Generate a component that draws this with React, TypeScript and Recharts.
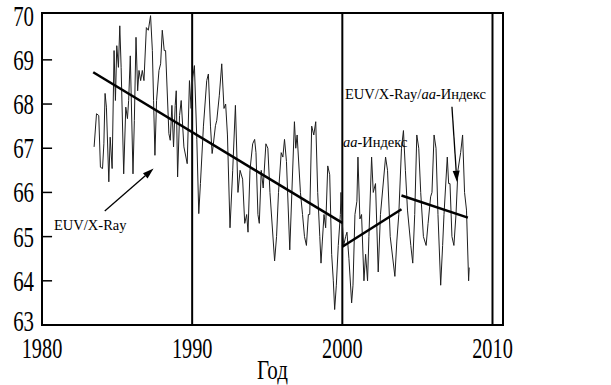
import { ComposedChart, Label, Line, ReferenceArea, ReferenceDot, ReferenceLine, XAxis, YAxis } from 'recharts';

const X_MIN = 1980;
const X_MAX = 2010.7;
const Y_MIN = 63;
const Y_MAX = 70.06;

const xTicks = [1980, 1990, 2000, 2010];
const yTicks = [63, 64, 65, 66, 67, 68, 69, 70];
const dividerYears = [1990, 2000, 2010];

// one row per calendar year, same layout in both arrays
const years = [
  1983.47, 1983.63, 1983.78, 1983.89,
  1984.03, 1984.12, 1984.2, 1984.29, 1984.45, 1984.54, 1984.67, 1984.8, 1984.89, 1984.98,
  1985.09, 1985.18, 1985.27, 1985.44, 1985.58, 1985.69, 1985.77, 1985.88,
  1986.06, 1986.15, 1986.26, 1986.37, 1986.46, 1986.57, 1986.68, 1986.79, 1986.95,
  1987.08, 1987.23, 1987.35, 1987.43, 1987.52, 1987.63, 1987.79, 1987.9,
  1988.01, 1988.14, 1988.23, 1988.45, 1988.54, 1988.65, 1988.76, 1988.87, 1988.94,
  1989.03, 1989.16, 1989.27, 1989.45, 1989.67, 1989.82, 1989.93,
  1990.04, 1990.15, 1990.31, 1990.44, 1990.55, 1990.75, 1990.97,
  1991.08, 1991.22, 1991.33, 1991.39, 1991.55, 1991.64, 1991.81, 1991.97,
  1992.12, 1992.23, 1992.35, 1992.52, 1992.7, 1992.88,
  1993.05, 1993.19, 1993.36, 1993.5, 1993.63, 1993.72, 1993.85,
  1994.03, 1994.16, 1994.25, 1994.38, 1994.47, 1994.6, 1994.73, 1994.91,
  1995.04, 1995.18, 1995.49, 1995.62, 1995.75, 1995.93,
  1996.04, 1996.15, 1996.28, 1996.5, 1996.64, 1996.81, 1996.9, 1996.99,
  1997.21, 1997.35, 1997.48, 1997.61, 1997.74, 1997.83, 1997.96,
  1998.1, 1998.23, 1998.36, 1998.5, 1998.58, 1998.67, 1998.78, 1998.89,
  1999.03, 1999.16, 1999.29, 1999.4, 1999.49, 1999.6, 1999.73, 1999.87, 1999.91,
  2000.0, 2000.09, 2000.22, 2000.31, 2000.44, 2000.62, 2000.71, 2000.84, 2000.97,
  2001.04, 2001.17, 2001.28, 2001.44, 2001.55, 2001.68, 2001.77, 2001.95,
  2002.06, 2002.21, 2002.39, 2002.54, 2002.88,
  2003.01, 2003.19, 2003.5, 2003.63, 2003.76, 2003.94,
  2004.07, 2004.2, 2004.34, 2004.56, 2004.69, 2004.82, 2004.96,
  2005.09, 2005.22, 2005.4, 2005.58, 2005.71, 2005.88, 2005.97,
  2006.11, 2006.24, 2006.37, 2006.55, 2006.68, 2006.77, 2006.99,
  2007.08, 2007.17, 2007.3, 2007.43, 2007.57, 2007.7, 2007.88,
  2008.01, 2008.14, 2008.27, 2008.41, 2008.45,
];

const values = [
  67.03, 67.78, 67.74, 66.57,
  66.54, 67.1, 68.24, 67.93, 66.24, 67.25, 66.54, 69.21, 68.08, 69.32,
  68.83, 69.77, 68.83, 66.42, 67.93, 67.67, 68.08, 69.09,
  66.42, 67.63, 69.51, 68.3, 68.76, 68.53, 68.76, 68.53, 69.73,
  69.67, 70.0, 69.21, 68.08, 66.84, 68.08, 68.76, 68.91,
  69.67, 69.21, 69.21, 67.33, 67.18, 67.97, 67.03, 67.97, 68.3,
  66.35, 67.74, 68.08, 67.03, 66.65, 68.53, 67.9,
  68.6, 68.87, 67.2, 65.52, 66.2, 67.5, 68.53,
  68.68, 67.5, 66.88, 67.03, 67.51, 67.63, 68.2, 68.91,
  67.9, 68.0, 67.3, 65.2, 66.5, 67.97,
  66.0, 66.5, 66.3, 65.3, 65.5, 65.1, 66.5,
  67.1, 67.2, 66.9, 65.5, 65.3, 66.5, 66.1, 67.1,
  67.0, 66.0, 64.45, 65.0, 66.0, 66.9,
  66.8, 67.2, 66.7, 64.7, 66.0, 67.6, 67.0, 67.3,
  66.0, 65.5, 65.0, 64.8, 65.5, 65.5, 67.5,
  67.3, 67.6, 66.0, 65.0, 64.4, 64.9, 65.5, 65.2,
  66.6, 66.4, 64.6, 64.0, 63.35, 63.9, 64.8, 65.5, 66.0,
  65.3, 64.8, 65.0, 65.1, 64.5, 63.5, 63.9, 65.5, 65.8,
  66.8, 65.4, 65.5, 64.0, 64.6, 64.0, 65.0, 66.8,
  66.0, 66.2, 64.2, 65.5, 66.8,
  66.5, 65.0, 64.1, 64.9, 65.5, 67.0,
  67.4, 66.5, 65.6, 64.8, 64.4, 65.5, 67.3,
  67.0, 66.0, 65.0, 64.8, 65.3, 65.9, 66.0,
  67.3, 67.0, 65.5, 63.9, 64.8, 65.5, 66.8,
  66.2, 66.2, 65.0, 64.8, 65.5, 66.5, 66.9,
  67.3, 66.0, 65.6, 64.0, 64.3,
];

// linear trend segments: [start year, end year], [start value, end value]
const trendYears = [
  [1983.41, 2000.0],
  [2000.0, 2003.94],
  [2003.94, 2008.36],
];
const trendValues = [
  [68.72, 65.31],
  [64.77, 65.62],
  [65.93, 65.43],
];

const series = years.map((year, i) => ({ year, value: values[i] }));
const trends = trendYears.map((ys, i) => ys.map((year, j) => ({ year, value: trendValues[i][j] })));

const FONT = '"Liberation Serif", "Times New Roman", serif';

const YTick = ({ x, y, payload }: any) => (
  <g transform={`translate(${x - 8},${y + (payload.value === 63 ? 6 : 10)})`}>
    <text transform="scale(0.72,1)" textAnchor="end" fontFamily={FONT} fontSize={29} fill="#000">
      {payload.value}
    </text>
  </g>
);

const XTick = ({ x, y, payload }: any) => (
  <g transform={`translate(${x},${y + 33})`}>
    <text transform="scale(0.7,1)" textAnchor="middle" fontFamily={FONT} fontSize={29} fill="#000">
      {payload.value}
    </text>
  </g>
);

const AxisTitle = ({ viewBox }: any) => (
  <g transform={`translate(${viewBox.x + viewBox.width / 2},${viewBox.y + 54})`}>
    <text transform="scale(0.75,1)" textAnchor="middle" fontFamily={FONT} fontSize={28} fill="#000">
      Год
    </text>
  </g>
);

const Arrow = ({ x1, y1, x2, y2 }: any) => {
  const ang = Math.atan2(y2 - y1, x2 - x1);
  const len = 11;
  const half = 3.5;
  const bx = x2 - len * Math.cos(ang);
  const by = y2 - len * Math.sin(ang);
  const px = -Math.sin(ang) * half;
  const py = Math.cos(ang) * half;
  return (
    <g>
      <line x1={x1} y1={y1} x2={bx} y2={by} stroke="#000" strokeWidth={1.3} />
      <polygon points={`${x2},${y2} ${bx + px},${by + py} ${bx - px},${by - py}`} fill="#000" />
    </g>
  );
};

const note = (content: React.ReactNode) => (p: any) => (
  <text x={p.cx} y={p.cy} fontFamily={FONT} fontSize={14.5} fill="#000">
    {content}
  </text>
);

export default function App() {
  return (
    <div style={{ position: 'absolute', left: 0, top: 0, background: '#fff' }}>
      <ComposedChart width={611} height={385} data={series} margin={{ top: 13, right: 108, bottom: 0, left: 0 }}>
        <XAxis
          dataKey="year"
          type="number"
          domain={[X_MIN, X_MAX]}
          ticks={xTicks}
          interval={0}
          allowDataOverflow
          axisLine={false}
          tickLine={false}
          tickSize={0}
          tickMargin={0}
          height={60}
          tick={<XTick />}
        >
          <Label content={<AxisTitle />} />
        </XAxis>
        <YAxis
          type="number"
          domain={[Y_MIN, Y_MAX]}
          ticks={yTicks}
          interval={0}
          allowDataOverflow
          axisLine={false}
          tickLine={false}
          tickSize={0}
          tickMargin={0}
          width={42}
          tick={<YTick />}
        />
        <ReferenceArea x1={X_MIN} x2={X_MAX} y1={Y_MIN} y2={Y_MAX} fill="none" fillOpacity={0} stroke="#000" strokeWidth={2} />
        {dividerYears.map((yr) => (
          <ReferenceLine key={yr} x={yr} stroke="#000" strokeWidth={2} />
        ))}
        {yTicks.slice(1, -1).map((v) => (
          <ReferenceLine
            key={`t${v}`}
            segment={[
              { x: X_MIN, y: v },
              { x: X_MIN + 0.67, y: v },
            ]}
            stroke="#000"
            strokeWidth={1.5}
          />
        ))}
        <Line dataKey="value" type="linear" stroke="#1e1e1e" strokeWidth={1} dot={false} isAnimationActive={false} />
        {trends.map((t, i) => (
          <Line
            key={`trend${i}`}
            data={t}
            dataKey="value"
            type="linear"
            stroke="#000"
            strokeWidth={2.5}
            dot={false}
            isAnimationActive={false}
          />
        ))}
        <ReferenceLine
          segment={[
            { x: 1984.18, y: 65.58 },
            { x: 1987.43, y: 66.54 },
          ]}
          shape={<Arrow />}
        />
        <ReferenceLine
          segment={[
            { x: 2007.3, y: 67.94 },
            { x: 2007.63, y: 66.24 },
          ]}
          shape={<Arrow />}
        />
        <ReferenceDot x={1980.8} y={65.15} r={0} shape={note('EUV/X-Ray')} />
        <ReferenceDot
          x={2000.17}
          y={68.11}
          r={0}
          shape={note(
            <>
              EUV/X-Ray/<tspan fontStyle="italic">aa</tspan>-Индекс
            </>,
          )}
        />
        <ReferenceDot
          x={2000.04}
          y={67.03}
          r={0}
          shape={note(
            <>
              <tspan fontStyle="italic">aa</tspan>-Индекс
            </>,
          )}
        />
      </ComposedChart>
    </div>
  );
}
